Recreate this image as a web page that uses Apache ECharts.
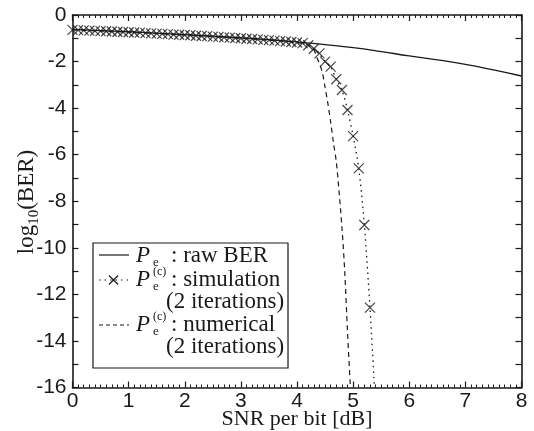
<!DOCTYPE html>
<html>
<head>
<meta charset="utf-8">
<script src="https://cdn.jsdelivr.net/npm/echarts@6/dist/echarts.min.js"></script>
<style>
	html, body { margin: 0; padding: 0; background: #fff; }
	#chart { width: 534px; height: 431px; }
</style>
</head>
<body>
<div id="chart"></div>
<script>
// raw BER (solid)
const snrRaw = [ 0, 0.5, 1, 1.5, 2, 2.5, 3, 3.5, 4, 4.5, 5, 5.5, 6, 6.5, 7, 7.5, 8 ];
const berRaw = [ -0.62, -0.67, -0.72, -0.78, -0.84, -0.91, -0.98, -1.06, -1.15, -1.27, -1.40, -1.57, -1.76, -1.93, -2.12, -2.36, -2.62 ];

// simulation, 2 iterations (x markers)
const snrSim = [
	0, 0.1, 0.2, 0.3, 0.4, 0.5, 0.6, 0.7, 0.8, 0.9,
	1.0, 1.1, 1.2, 1.3, 1.4, 1.5, 1.6, 1.7, 1.8, 1.9,
	2.0, 2.1, 2.2, 2.3, 2.4, 2.5, 2.6, 2.7, 2.8, 2.9,
	3.0, 3.1, 3.2, 3.3, 3.4, 3.5, 3.6, 3.7, 3.8, 3.9,
	4.0, 4.1, 4.2, 4.3, 4.4, 4.5, 4.6, 4.7, 4.8, 4.9,
	5.0, 5.1, 5.2, 5.3
];
const berSim = [
	-0.64, -0.65, -0.66, -0.67, -0.68, -0.69, -0.70, -0.71, -0.72, -0.73,
	-0.74, -0.75, -0.76, -0.78, -0.79, -0.80, -0.81, -0.82, -0.84, -0.85,
	-0.86, -0.87, -0.89, -0.90, -0.91, -0.93, -0.94, -0.96, -0.97, -0.99,
	-1.00, -1.02, -1.03, -1.05, -1.07, -1.08, -1.10, -1.12, -1.14, -1.16,
	-1.18, -1.21, -1.30, -1.45, -1.65, -2.00, -2.22, -2.76, -3.22, -4.08,
	-5.20, -6.59, -9.02, -12.57
];
// dotted fit continues below the last marker
const snrSimTail = [ 5.38 ];
const berSimTail = [ -16 ];

// numerical, 2 iterations (dashed)
const snrNum = [ 0, 1, 2, 3, 3.5, 4, 4.2, 4.3, 4.35, 4.4, 4.45, 4.5, 4.55, 4.6, 4.65, 4.7, 4.75, 4.8, 4.85, 4.9, 4.95, 4.96 ];
const berNum = [ -0.64, -0.74, -0.86, -1.0, -1.08, -1.18, -1.30, -1.50, -1.80, -2.10, -2.45, -3.10, -3.80, -4.60, -5.50, -6.30, -7.60, -9.10, -11.0, -13.6, -15.9, -16.0 ];

const xTicks = { min: 0, max: 8, interval: 1 };
const yTicks = { min: -16, max: 0, interval: 1 };

const INK = '#1a1a1a';
const SANS = '"Liberation Sans", Arial, sans-serif';
const SERIF = '"Liberation Serif", "Times New Roman", serif';
const CROSS = 'path://M0,0L10,10M10,0L0,10';

const zip = ( xs, ys ) => xs.map( ( x, i ) => [ x, ys[ i ] ] );

const axisBase = function ( extra ) {
	return Object.assign( {
		type: 'value',
		axisLine: { show: true, onZero: false, lineStyle: { color: INK, width: 1.6 } },
		axisTick: { show: true, inside: true, length: 6, lineStyle: { color: INK, width: 1.2 } },
		splitLine: { show: false },
		axisLabel: { color: INK, fontFamily: SANS, fontSize: 21 }
	}, extra );
};

const chart = echarts.init( document.getElementById( 'chart' ), null, { renderer: 'canvas' } );

// legend is drawn by hand so the stacked sub/superscripts can sit like the original
const lx = 93;
const ly = 243;
const legendText = function ( x, y, text, size, italic ) {
	return {
		type: 'text', x: lx + x, y: ly + y, z: 110,
		style: {
			text: text, fill: INK, fontFamily: SERIF, fontSize: size,
			fontStyle: italic ? 'italic' : 'normal', verticalAlign: 'middle', align: 'left'
		}
	};
};
const legendSeg = function ( x1, y1, x2, y2, dash ) {
	return {
		type: 'line', z: 110,
		shape: { x1: lx + x1, y1: ly + y1, x2: lx + x2, y2: ly + y2 },
		style: { stroke: INK, lineWidth: 1.2, lineDash: dash }
	};
};
const legendP = function ( y, withC ) {
	const out = [ legendText( 43, y, 'P', 23, true ), legendText( 60, y + 7, 'e', 13, false ) ];
	if ( withC ) {
		out.push( legendText( 60, y - 8, '(c)', 12, false ) );
	}
	return out;
};

const graphic = [
	{
		type: 'rect', z: 100,
		shape: { x: lx, y: ly, width: 195, height: 125 },
		style: { fill: '#fff', stroke: INK, lineWidth: 1.2 }
	},
	legendSeg( 6, 12, 36, 12, null ),
	...legendP( 13, false ),
	legendText( 78, 13, ': raw BER', 23, false ),
	legendSeg( 6, 37, 36, 37, [ 1.5, 4 ] ),
	legendSeg( 16, 32.5, 25, 41.5, null ),
	legendSeg( 25, 32.5, 16, 41.5, null ),
	...legendP( 37, true ),
	legendText( 78, 37, ': simulation', 23, false ),
	legendText( 73, 59, '(2 iterations)', 23, false ),
	legendSeg( 6, 82, 36, 82, [ 4, 3 ] ),
	...legendP( 82, true ),
	legendText( 78, 82, ': numerical', 23, false ),
	legendText( 73, 104, '(2 iterations)', 23, false ),
	{
		type: 'text', x: 27, y: 202, rotation: Math.PI / 2, z: 110,
		style: {
			text: '{a|log}{s|10}{a|(BER)}', align: 'center', verticalAlign: 'middle',
			rich: {
				a: { fontFamily: SERIF, fontSize: 23, lineHeight: 30, fill: INK, verticalAlign: 'middle' },
				s: { fontFamily: SERIF, fontSize: 15, lineHeight: 15, fill: INK, verticalAlign: 'bottom' }
			}
		}
	}
];

const option = {
	animation: false,
	backgroundColor: '#fff',
	grid: { left: 72.5, right: 12.5, top: 15, bottom: 43.5, containLabel: false, outerBoundsMode: 'none' },
	xAxis: [
		axisBase( {
			position: 'bottom', min: xTicks.min, max: xTicks.max, interval: xTicks.interval,
			minorTick: { show: true, splitNumber: 10, length: 3, lineStyle: { color: INK, width: 1 } },
			axisLabel: { color: INK, fontFamily: SANS, fontSize: 21, margin: 3 },
			name: 'SNR per bit [dB]', nameLocation: 'middle', nameGap: 21, nameMoveOverlap: false,
			nameTextStyle: { color: INK, fontFamily: SERIF, fontSize: 22 }
		} ),
		axisBase( {
			position: 'top', min: xTicks.min, max: xTicks.max, interval: xTicks.interval,
			minorTick: { show: true, splitNumber: 10, length: 3, lineStyle: { color: INK, width: 1 } },
			axisLabel: { show: false }
		} )
	],
	yAxis: [
		axisBase( {
			position: 'left', min: yTicks.min, max: yTicks.max, interval: yTicks.interval,
			axisLabel: {
				color: INK, fontFamily: SANS, fontSize: 21, margin: 6,
				formatter: ( v ) => ( v % 2 === 0 ? String( v ) : '' )
			}
		} ),
		axisBase( {
			position: 'right', min: yTicks.min, max: yTicks.max, interval: yTicks.interval,
			axisLabel: { show: false }
		} )
	],
	series: [
		{
			name: 'raw', type: 'line', data: zip( snrRaw, berRaw ),
			showSymbol: false, smooth: true,
			lineStyle: { color: INK, width: 1.3 }
		},
		{
			name: 'numerical', type: 'line', data: zip( snrNum, berNum ),
			showSymbol: false, smooth: 0.3,
			lineStyle: { color: INK, width: 1.2, type: [ 5, 4 ] }
		},
		{
			name: 'sim fit', type: 'line',
			data: zip( snrSim, berSim ).concat( zip( snrSimTail, berSimTail ) ),
			showSymbol: false, smooth: 0.3,
			lineStyle: { color: INK, width: 1.3, type: [ 1.5, 4 ] }
		},
		{
			name: 'simulation', type: 'scatter', data: zip( snrSim, berSim ),
			symbol: CROSS, symbolSize: 10, clip: false,
			itemStyle: { color: 'transparent', borderColor: INK, borderWidth: 1.2 }
		}
	],
	graphic: graphic
};

chart.setOption( option );
</script>
</body>
</html>
